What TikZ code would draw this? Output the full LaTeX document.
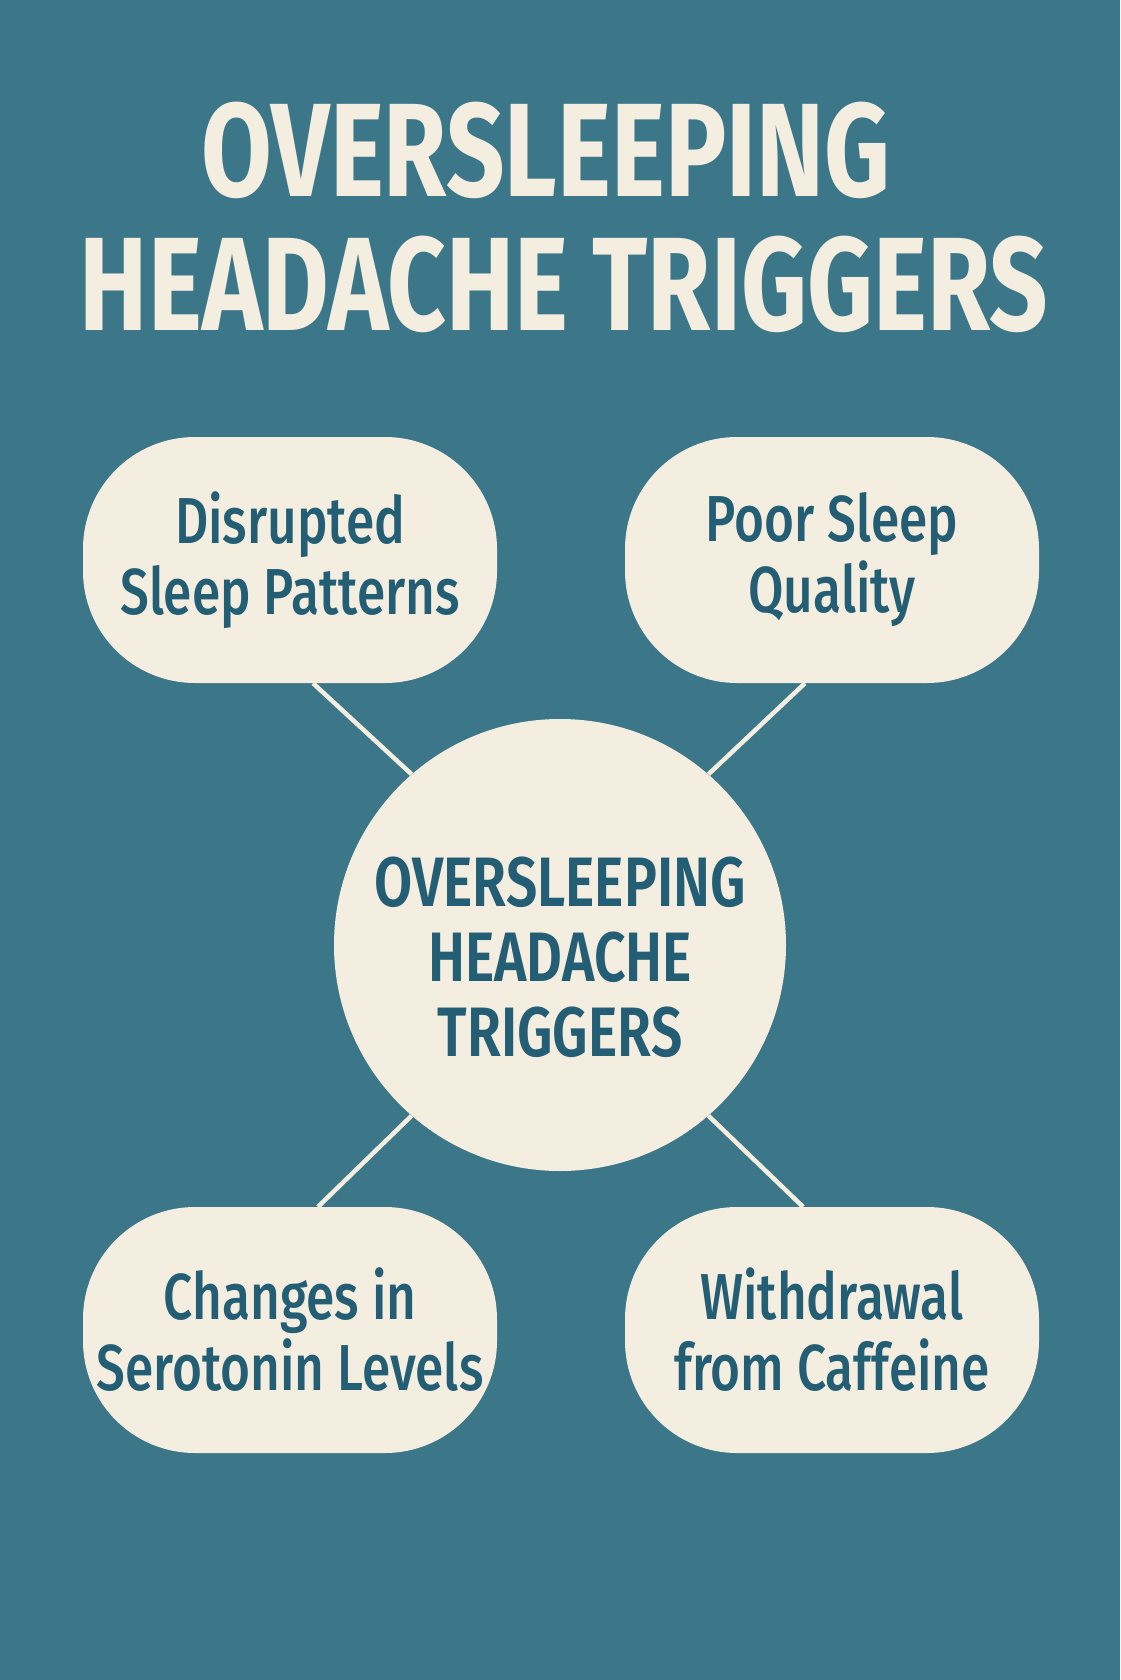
\documentclass[tikz,border=0pt]{standalone}
\usepackage{fontspec}
\setmainfont{Fira Sans Medium}[FakeStretch=0.79]
\newfontfamily\hubfont{Fira Sans SemiBold}[FakeStretch=0.79]
\newfontfamily\titlefont{Fira Sans Bold}[FakeStretch=0.77]
\definecolor{teal}{HTML}{3C7789}
\definecolor{cream}{HTML}{F3EEE0}
\definecolor{ink}{HTML}{245E74}
\tikzset{
    pill/.style={fill=cream, rounded corners=112pt, minimum width=414pt,
        minimum height=246pt, align=center, text=ink,
        font=\fontsize{65}{71}\selectfont},
    hub/.style={circle, fill=cream, minimum size=452pt, inner sep=0pt},
    hubtext/.style={align=center, text=ink,
        font=\hubfont\fontsize{70}{75}\selectfont},
    link/.style={cream, line width=4.5pt},
    heading/.style={anchor=base, text=cream,
        font=\titlefont\fontsize{133}{140}\selectfont}
}
\begin{document}
\begin{tikzpicture}[x=1pt, y=-1pt]
            \fill [teal] (0,0) rectangle (1120,1680);
            \useasboundingbox (0,0) rectangle (1120,1680);
            \node [heading] (title1) at (546,197) {OVERSLEEPING};
            \node [heading] (title2) at (564,330) {HEADACHE TRIGGERS};
            \node [pill] (dsp) at (290,560) {Disrupted\\Sleep Patterns};
            \node [pill] (psq) at (832,560) {Poor Sleep\\Quality};
            \node [pill] (csl) at (290,1330) {Changes in\\Serotonin Levels};
            \node [pill] (wfc) at (832,1330) {Withdrawal\\from Caffeine};
            \node [hub] (hub) at (560,945) {};
            \node [hubtext] (hubtext) at (560,957) {OVERSLEEPING\\HEADACHE\\TRIGGERS};
            \draw [link] ([xshift=23pt]dsp.south) -- (hub.131);
            \draw [link] ([xshift=-27pt]psq.south) -- (hub.49);
            \draw [link] ([xshift=28pt]csl.north) -- (hub.229);
            \draw [link] ([xshift=-29pt]wfc.north) -- (hub.311);
        \end{tikzpicture}
\end{document}
